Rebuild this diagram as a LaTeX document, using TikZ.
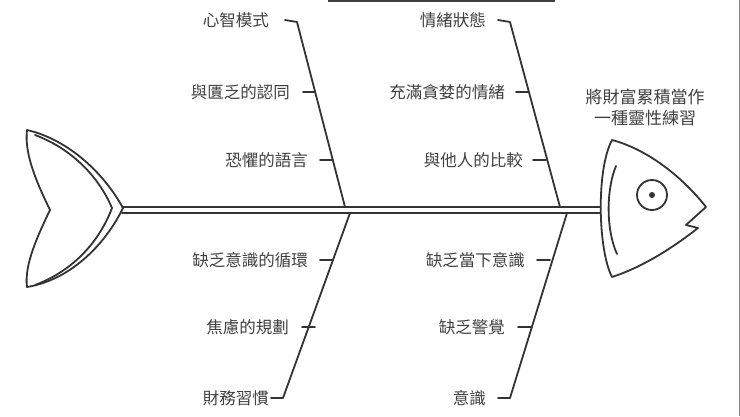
\documentclass[tikz,border=0pt]{standalone}
\usepackage{fontspec}
\newfontfamily\cjk{Noto Sans CJK TC}
\begin{document}
\begin{tikzpicture}[x=1pt,y=-1pt,
  ln/.style={draw=black!80,line width=1.8pt,line join=round,line cap=round},
  lbl/.style={font=\cjk\fontsize{16.5}{18}\selectfont,text=black!75,anchor=east,inner sep=0pt}]
\useasboundingbox (0,0) rectangle (740,416);
% frame bits
\draw[black!75,line width=2pt] (328,1) -- (555,1);
\draw[black!50,line width=1pt] (739,0) -- (739,416);
% spine
\draw[ln] (122,207) -- (600,207);
\draw[ln] (122,213) -- (600,213);
% bones
\coordinate (tl1) at (297,22); \coordinate (tl2) at (345,207);
\coordinate (tr1) at (510,22); \coordinate (tr2) at (560,207);
\coordinate (bl1) at (350,213); \coordinate (bl2) at (283,398);
\coordinate (br1) at (567,213); \coordinate (br2) at (510,398);
\draw[ln] (285,20) -- (tl1) -- (tl2);
\draw[ln] (498,20) -- (tr1) -- (tr2);
\draw[ln] (271,398) -- (bl2) -- (bl1);
\draw[ln] (498,398) -- (br2) -- (br1);
% ticks
\draw[ln] (303,92) -- (315,92);
\draw[ln] (320,160) -- (333,160);
\draw[ln] (516,92) -- (528,92);
\draw[ln] (533,160) -- (546,160);
\draw[ln] (320,260) -- (333,260);
\draw[ln] (302,327) -- (315,327);
\draw[ln] (537,260) -- (550,260);
\draw[ln] (518,327) -- (532,327);
% labels
\node[lbl] (a1) at (269,20) {心智模式};
\node[lbl] (a2) at (290,92) {與匱乏的認同};
\node[lbl] (a3) at (308,160) {恐懼的語言};
\node[lbl] (b1) at (486,20) {情緒狀態};
\node[lbl] (b2) at (505,92) {充滿貪婪的情緒};
\node[lbl] (b3) at (523,160) {與他人的比較};
\node[lbl] (c1) at (308,260) {缺乏意識的循環};
\node[lbl] (c2) at (289,327) {焦慮的規劃};
\node[lbl] (c3) at (269,398) {財務習慣};
\node[lbl] (d1) at (525,260) {缺乏當下意識};
\node[lbl] (d2) at (505,327) {缺乏警覺};
\node[lbl] (d3) at (486,398) {意識};
\node[font=\cjk\fontsize{17}{21}\selectfont,text=black!75,align=center] (t) at (645,107) {將財富累積當作\\一種靈性練習};
% head
\draw[ln,fill=white] (612,140) .. controls (650,150) and (685,180) .. (706,207)
  -- (686,225) -- (698,228) .. controls (670,250) and (640,268) .. (612,277)
  .. controls (598,250) and (596,170) .. (612,140) -- cycle;
\draw[ln] (616,166) .. controls (606,190) and (606,230) .. (617,254);
\draw[ln] (652,195) circle (15);
\fill[black!80] (652,195) circle (3);
% tail
\draw[ln] (27,130) .. controls (70,140) and (105,175) .. (123,208)
  .. controls (105,245) and (70,280) .. (27,287)
  .. controls (24,265) and (38,235) .. (50,210)
  .. controls (38,185) and (24,155) .. (27,130) -- cycle;
\draw[ln] (35,135) .. controls (70,148) and (98,175) .. (112,208)
  .. controls (98,245) and (70,272) .. (35,285);
\end{tikzpicture}
\end{document}
